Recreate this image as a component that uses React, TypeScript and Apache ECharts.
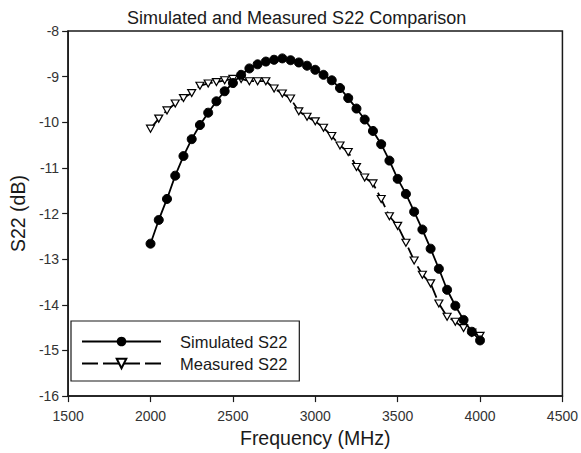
import React, { useEffect, useRef } from "react";
import * as echarts from "echarts";

const frequencies = [
  2000, 2050, 2100, 2150, 2200, 2250, 2300, 2350, 2400, 2450,
  2500, 2550, 2600, 2650, 2700, 2750, 2800, 2850, 2900, 2950,
  3000, 3050, 3100, 3150, 3200, 3250, 3300, 3350, 3400, 3450,
  3500, 3550, 3600, 3650, 3700, 3750, 3800, 3850, 3900, 3950, 4000,
];

const simulatedS22 = [
  -12.66, -12.14, -11.68, -11.17, -10.74, -10.37, -10.06, -9.79, -9.54, -9.32,
  -9.14, -8.96, -8.82, -8.73, -8.67, -8.63, -8.6, -8.64, -8.69, -8.76,
  -8.85, -8.96, -9.08, -9.25, -9.47, -9.7, -9.94, -10.19, -10.48, -10.84,
  -11.24, -11.57, -11.96, -12.35, -12.77, -13.21, -13.67, -14.02, -14.33, -14.59, -14.78,
];

const measuredS22 = [
  -10.14, -9.92, -9.74, -9.59, -9.47, -9.36, -9.2, -9.15, -9.12, -9.08,
  -9.05, -9.05, -9.1, -9.1, -9.1, -9.26, -9.37, -9.48, -9.76, -9.88,
  -9.98, -10.12, -10.3, -10.51, -10.65, -10.98, -11.21, -11.34, -11.68, -12.06,
  -12.27, -12.64, -13.03, -13.34, -13.53, -13.97, -14.26, -14.37, -14.51, -14.61, -14.68,
];

const seriesNames = ["Simulated S22", "Measured S22"];
const titleText = "Simulated and Measured S22 Comparison";
const xAxisName = "Frequency (MHz)";
const yAxisName = "S22 (dB)";

const FONT = "Arial, 'Liberation Sans', Helvetica, sans-serif";
const INK = "#1a1a1a";

export default function App() {
  const ref = useRef<HTMLDivElement>(null);

  useEffect(() => {
    if (!ref.current) return;
    const chart = echarts.init(ref.current, undefined, { renderer: "svg" });
    const simData = frequencies.map((f, i) => [f, simulatedS22[i]]);
    const measData = frequencies.map((f, i) => [f, measuredS22[i]]);
    chart.setOption({
      animation: false,
      backgroundColor: "#ffffff",
      title: {
        text: titleText,
        left: 122,
        top: 4,
        textStyle: { fontFamily: FONT, fontSize: 18, fontWeight: "normal", color: INK },
      },
      grid: {
        left: 64,
        top: 31,
        right: 16,
        bottom: 55,
        show: true,
        borderColor: INK,
        borderWidth: 1.5,
        backgroundColor: "transparent",
      },
      legend: {
        orient: "vertical",
        left: 71,
        top: 321,
        width: 228,
        data: seriesNames,
        itemWidth: 79,
        itemHeight: 12,
        itemGap: 5,
        padding: [12, 12, 9, 10],
        borderColor: INK,
        borderWidth: 1.2,
        textStyle: {
          fontFamily: FONT,
          fontSize: 16.5,
          lineHeight: 12,
          color: INK,
          padding: [0, 0, 0, 14],
        },
      },
      xAxis: {
        type: "value",
        min: 1500,
        max: 4500,
        interval: 500,
        name: xAxisName,
        nameLocation: "middle",
        nameGap: 27,
        nameTextStyle: { fontFamily: FONT, fontSize: 19.5, color: INK },
        axisLine: { show: true, lineStyle: { color: INK, width: 1.5 } },
        axisTick: { show: true, inside: false, length: 6, lineStyle: { color: INK, width: 1.2 } },
        axisLabel: {
          fontFamily: FONT,
          fontSize: 14,
          color: "#333",
          margin: 13,
          formatter: (v: number) => String(v),
        },
        splitLine: { show: false },
      },
      yAxis: {
        type: "value",
        min: -16,
        max: -8,
        interval: 1,
        name: yAxisName,
        nameLocation: "middle",
        nameGap: 27,
        nameTextStyle: { fontFamily: FONT, fontSize: 19.5, color: INK },
        axisLine: { show: true, onZero: false, lineStyle: { color: INK, width: 1.5 } },
        axisTick: { show: true, inside: false, length: 6, lineStyle: { color: INK, width: 1.2 } },
        axisLabel: { fontFamily: FONT, fontSize: 14, color: "#333", margin: 9 },
        splitLine: { show: false },
      },
      series: [
        {
          name: seriesNames[0],
          type: "line",
          data: simData,
          symbol: "circle",
          symbolSize: 9,
          itemStyle: { color: "#000", borderColor: "#000" },
          lineStyle: { color: "#000", width: 1.8, type: "solid" },
          z: 3,
        },
        {
          name: seriesNames[1],
          type: "line",
          data: measData,
          symbol: "path://M0,0 L10,0 L5,9 Z",
          symbolSize: [8, 7],
          itemStyle: { color: "#ffffff", borderColor: "#000", borderWidth: 1.2 },
          lineStyle: { color: "#000", width: 1.8, type: [16, 5] },
          z: 2,
        },
      ],
    });
    return () => chart.dispose();
  }, []);

  return (
    <div
      ref={ref}
      style={{ position: "fixed", left: 0, top: 0, width: 581, height: 453, background: "#fff" }}
    />
  );
}
